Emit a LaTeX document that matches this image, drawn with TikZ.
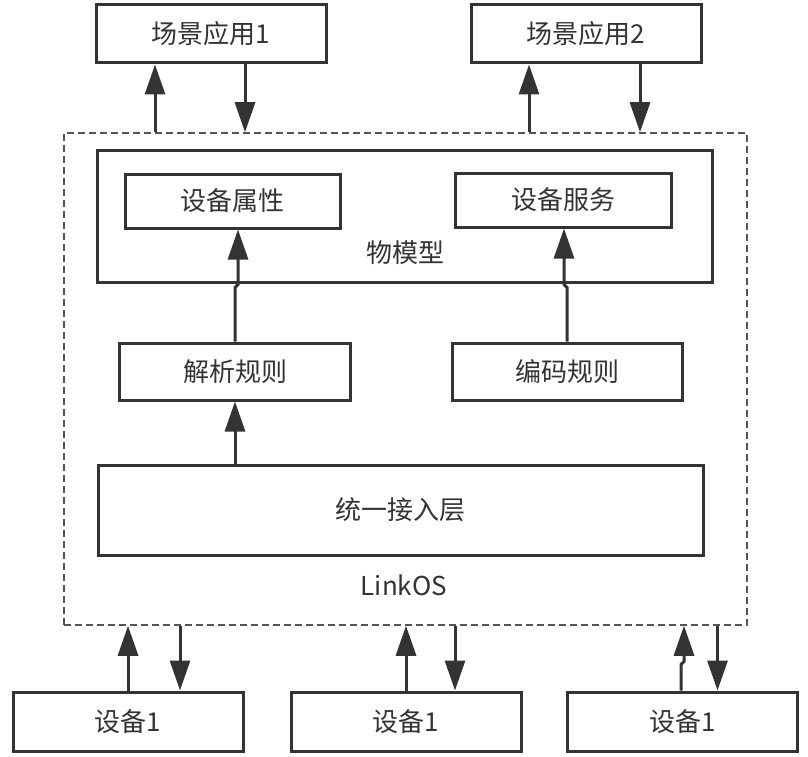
\documentclass[tikz,border=0pt]{standalone}
\usepackage{fontspec}
\newfontfamily\cjk{Noto Sans CJK SC}
\usepackage{tikz}
\usetikzlibrary{arrows.meta}
\definecolor{linec}{HTML}{333333}
\definecolor{dashc}{HTML}{555555}

\begin{document}
\begin{tikzpicture}[
        x=1pt, y=-1pt, % 按像素坐标摆放
        box/.style={rectangle, draw=linec, line width=3pt, inner sep=0pt, minimum width=230pt, minimum height=58pt, text=linec, font=\cjk\fontsize{26}{30}\selectfont},
        frame/.style={rectangle, draw=dashc, line width=1.5pt, dash pattern=on 7pt off 4pt, inner sep=0pt},
        txt/.style={text=linec, font=\cjk\fontsize{26}{30}\selectfont},
        arrow/.style={draw=linec, line width=3pt, -{Triangle[length=30pt, width=20pt]}}
    ]
    \useasboundingbox (0,0) rectangle (808,757);

    % --- Nodes ---
    \node[box] (app1) at (211,34) {场景应用1};
    \node[box] (app2) at (586,34) {场景应用2};

    \node[frame, minimum width=683pt, minimum height=492pt] (linkos) at (405.5,379) {};
    \node[txt] (ostext) at (404,585) {LinkOS};

    \node[box, minimum width=615pt, minimum height=132pt] (model) at (404.5,216) {};
    \node[box, minimum width=215pt, minimum height=54pt] (prop) at (232.5,201) {设备属性};
    \node[box, minimum width=216pt, minimum height=54pt] (serv) at (563,200) {设备服务};
    \node[txt] (modeltext) at (405,253) {物模型};

    \node[box, minimum width=231pt, minimum height=57pt] (parse) at (235,371.5) {解析规则};
    \node[box, minimum width=230pt, minimum height=57pt] (enc) at (567,371.5) {编码规则};

    \node[box, minimum width=605pt, minimum height=90pt] (access) at (400.5,510) {统一接入层};

    \node[box, minimum height=59pt] (dev1) at (128,721.5) {设备1};
    \node[box, minimum height=59pt] (dev2) at (406,721.5) {设备1};
    \node[box, minimum height=59pt] (dev3) at (682.5,721.5) {设备1};

    % --- Edges ---
    % 上方应用
    \draw[arrow] ([xshift=-56pt]linkos.north -| app1.south) -- ([xshift=-56pt]app1.south);
    \draw[arrow] ([xshift=34pt]app1.south) -- ([xshift=34pt]linkos.north -| app1.south);
    \draw[arrow] ([xshift=-57pt]linkos.north -| app2.south) -- ([xshift=-57pt]app2.south);
    \draw[arrow] ([xshift=54pt]app2.south) -- ([xshift=54pt]linkos.north -| app2.south);

    % 规则 -> 物模型 (带小折)
    \draw[arrow] (parse.north) -- ++(0,-54) -- ++(3,-3) coordinate (k1) -- (k1 |- prop.south);
    \draw[arrow] (enc.north) -- ++(0,-54) -- ++(-3,-3) coordinate (k2) -- (k2 |- serv.south);
    \draw[arrow] (access.north -| parse.south) -- (parse.south);

    % 下方设备
    \draw[arrow] (dev1.north) -- (dev1.north |- linkos.south);
    \draw[arrow] ([xshift=52pt]linkos.south -| dev1.north) -- ([xshift=52pt]dev1.north);
    \draw[arrow] (dev2.north) -- (dev2.north |- linkos.south);
    \draw[arrow] ([xshift=49pt]linkos.south -| dev2.north) -- ([xshift=49pt]dev2.north);
    \draw[arrow] ([xshift=-1.5pt]dev3.north) -- ++(0,-26) -- ++(3,-3) coordinate (k3) -- (k3 |- linkos.south);
    \draw[arrow] ([xshift=35pt]linkos.south -| dev3.north) -- ([xshift=35pt]dev3.north);

\end{tikzpicture}
\end{document}
